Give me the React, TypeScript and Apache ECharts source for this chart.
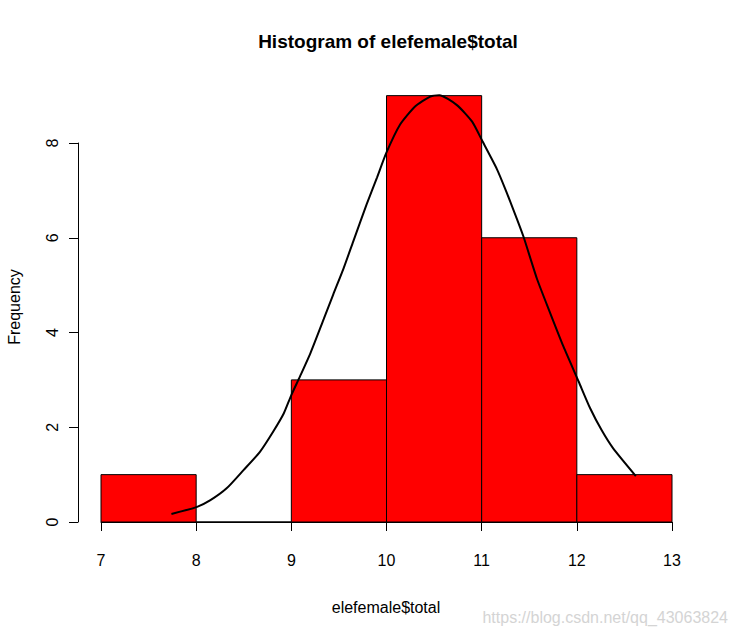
import React, { useEffect, useRef } from "react";
import * as echarts from "echarts";

const breaks = [7, 8, 9, 10, 11, 12, 13];
const counts = [1, 0, 3, 9, 6, 1];
const xTicks = [7, 8, 9, 10, 11, 12, 13];
const yTicks = [0, 2, 4, 6, 8];
const curveX = [
  7.74, 8.01, 8.15, 8.32, 8.5, 8.67, 8.81, 8.92, 9.0, 9.09, 9.2, 9.34, 9.44, 9.55, 9.65, 9.79, 9.9,
  10.0, 10.14, 10.3, 10.46, 10.555, 10.74, 10.9, 11.01, 11.16, 11.26, 11.37, 11.44, 11.58, 11.72,
  11.86, 12.02, 12.14, 12.26, 12.38, 12.62,
];
const curveY = [
  0.17, 0.32, 0.46, 0.71, 1.1, 1.48, 1.91, 2.29, 2.68, 3.07, 3.56, 4.28, 4.8, 5.36, 5.92, 6.7, 7.27,
  7.8, 8.38, 8.77, 8.98, 9.01, 8.8, 8.45, 8.03, 7.45, 6.97, 6.4, 6.02, 5.14, 4.41, 3.7, 2.96, 2.4,
  1.94, 1.56, 0.97,
];

const FONT = '"Liberation Sans", Arial, sans-serif';

export default function App() {
  const ref = useRef<HTMLDivElement>(null);
  useEffect(() => {
    if (!ref.current) return;
    const chart = echarts.init(ref.current, undefined, { renderer: "svg" });
    const barData = counts.map((c, i) => [breaks[i], breaks[i + 1], c]);
    const lineData = curveX.map((x, i) => [x, curveY[i]]);
    chart.setOption({
      animation: false,
      backgroundColor: "#ffffff",
      textStyle: { fontFamily: FONT },
      grid: { left: 101, right: 64, top: 143, bottom: 115 },
      xAxis: {
        type: "value",
        min: xTicks[0],
        max: xTicks[xTicks.length - 1],
        interval: 1,
        offset: 16,
        axisLine: { show: true, lineStyle: { color: "#000", width: 1 } },
        axisTick: { show: true, length: 9, lineStyle: { color: "#000" } },
        axisLabel: { color: "#000", fontSize: 16, margin: 14, fontFamily: FONT },
        splitLine: { show: false },
      },
      yAxis: {
        type: "value",
        min: yTicks[0],
        max: yTicks[yTicks.length - 1],
        interval: 2,
        offset: 23,
        axisLine: { show: true, lineStyle: { color: "#000", width: 1 } },
        axisTick: { show: true, length: 9, lineStyle: { color: "#000" } },
        axisLabel: { color: "#000", fontSize: 16, margin: 18, rotate: 90, fontFamily: FONT },
        splitLine: { show: false },
      },
      series: [
        {
          type: "custom",
          clip: false,
          encode: { x: [0, 1], y: 2 },
          data: barData,
          renderItem: (params: any, api: any) => {
            const p0 = api.coord([api.value(0), 0]);
            const p1 = api.coord([api.value(1), api.value(2)]);
            return {
              type: "rect",
              shape: { x: p0[0], y: p1[1], width: p1[0] - p0[0], height: p0[1] - p1[1] },
              style: { fill: "#FF0000", stroke: "#000000", lineWidth: 1 },
            };
          },
          z: 1,
        },
        {
          type: "line",
          data: lineData,
          showSymbol: false,
          smooth: 0.2,
          clip: false,
          lineStyle: { color: "#000", width: 2 },
          z: 2,
        },
      ],
      graphic: [
        {
          type: "text",
          x: 388,
          y: 41,
          style: {
            text: "Histogram of elefemale$total",
            fontFamily: FONT,
            fontSize: 19,
            fontWeight: "bold",
            fill: "#000",
            textAlign: "center",
            textVerticalAlign: "middle",
          },
        },
        {
          type: "text",
          x: 386,
          y: 607,
          style: {
            text: "elefemale$total",
            fontFamily: FONT,
            fontSize: 16,
            fill: "#000",
            textAlign: "center",
            textVerticalAlign: "middle",
          },
        },
        {
          type: "text",
          x: 14,
          y: 307,
          rotation: Math.PI / 2,
          style: {
            text: "Frequency",
            fontFamily: FONT,
            fontSize: 16,
            fill: "#000",
            textAlign: "center",
            textVerticalAlign: "middle",
          },
        },
        {
          type: "text",
          x: 728,
          y: 617,
          style: {
            text: "https://blog.csdn.net/qq_43063824",
            fontFamily: FONT,
            fontSize: 16,
            fill: "#d4d4d4",
            textAlign: "right",
            textVerticalAlign: "middle",
          },
        },
      ],
    });
    return () => chart.dispose();
  }, []);
  return <div ref={ref} style={{ width: 736, height: 637, position: "absolute", left: 0, top: 0 }} />;
}
